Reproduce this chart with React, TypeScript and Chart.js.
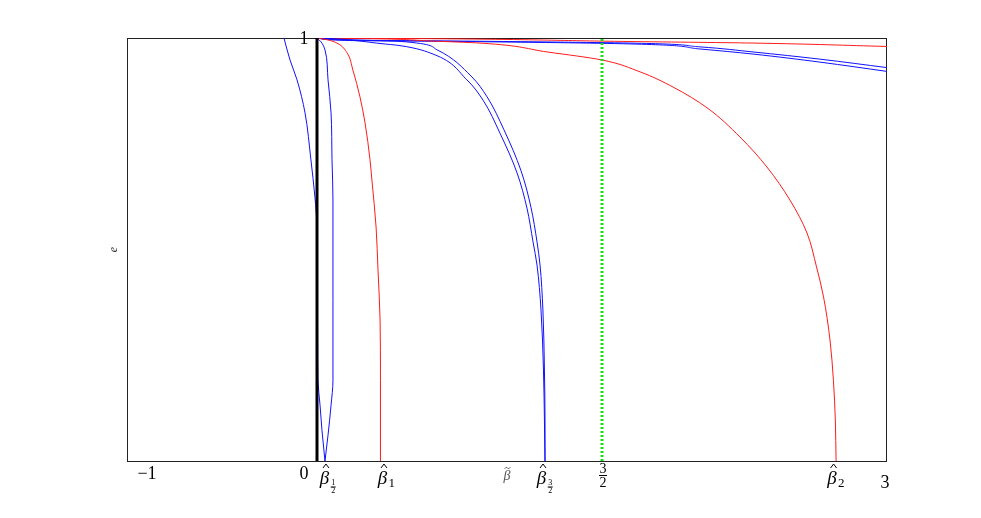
import React, { useEffect, useRef } from "react";
import { Chart, registerables } from "chart.js";
Chart.register(...registerables);

// ---- data (x = beta, e) ----
const halfLeftX = [-0.174, -0.142, -0.105, -0.063, -0.032, -0.011, 0, 0.0016, 0.003, 0.005, 0.016, 0.026, 0.042];
const halfLeftE = [1.0, 0.948, 0.901, 0.823, 0.712, 0.624, 0.553, 0.428, 0.286, 0.191, 0.132, 0.073, 0];

const halfRightX = [0, 0.021, 0.042, 0.058, 0.074, 0.079, 0.084, 0.084, 0.084, 0.074, 0.058, 0.042];
const halfRightE = [1.0, 0.991, 0.972, 0.901, 0.823, 0.712, 0.617, 0.381, 0.191, 0.132, 0.061, 0];

const oneX = [0, 0.053, 0.105, 0.158, 0.189, 0.226, 0.253, 0.279, 0.289, 0.311, 0.321, 0.332, 0.334, 0.334];
const oneE = [1.0, 0.996, 0.988, 0.965, 0.924, 0.861, 0.799, 0.712, 0.664, 0.553, 0.452, 0.333, 0.191, 0];

const threeHalvesAX = [0, 0.174, 0.332, 0.437, 0.611, 0.789, 0.874, 0.963, 1.053, 1.105, 1.137, 1.158, 1.179, 1.192, 1.197, 1.2];
const threeHalvesAE = [1.0, 0.995, 0.987, 0.982, 0.962, 0.901, 0.853, 0.775, 0.681, 0.598, 0.518, 0.463, 0.357, 0.215, 0.097, 0];

const threeHalvesBX = [0, 0.226, 0.437, 0.632, 0.811, 0.895, 0.984, 1.074, 1.126, 1.158, 1.174, 1.189, 1.197, 1.2, 1.2];
const threeHalvesBE = [1.0, 0.995, 0.992, 0.972, 0.91, 0.861, 0.783, 0.686, 0.6, 0.518, 0.463, 0.357, 0.215, 0.097, 0];

const twoX = [0, 0.332, 0.595, 0.858, 1.211, 1.5, 1.7, 1.874, 2.053, 2.226, 2.368, 2.489, 2.579, 2.629, 2.666, 2.7, 2.718, 2.728, 2.732];
const twoE = [1.0, 0.998, 0.993, 0.988, 0.967, 0.948, 0.92, 0.884, 0.835, 0.766, 0.695, 0.617, 0.539, 0.459, 0.388, 0.286, 0.191, 0.097, 0];

const redTopX = [0, 0.7, 1.595, 2.295, 3.0];
const redTopE = [1.0, 0.998, 0.992, 0.988, 0.98];

const blueTop1X = [0, 0.174, 0.7, 1.647, 2.016, 2.295, 2.647, 3.0];
const blueTop1E = [1.0, 0.995, 0.993, 0.988, 0.979, 0.967, 0.95, 0.93];

const blueTop2X = [0, 0.174, 0.7, 1.647, 2.016, 2.295, 2.647, 3.0];
const blueTop2E = [1.0, 0.994, 0.992, 0.986, 0.974, 0.962, 0.943, 0.921];

const zeroLineX = [0, 0];
const zeroLineE = [0, 1];
const threeHalfLineX = [1.5, 1.5];
const threeHalfLineE = [0, 1];

const xTickValues = [-1, 0, 0.042, 0.334, 1.0, 1.2, 1.5, 2.732, 3];
const xTickLabels = ["−1", "0", "hat:1/2", "hat:1", "tilde", "hat:3/2", "3/2", "hat:2", "3"];
const yTickValues = [1];
const yTickLabels = ["1"];
const yAxisLabel = "e";

// ---- styles ----
const xLabelNudge = [20, -13, 3, 6, 0, 0, 1, 0, -2];
const SERIF = "'Liberation Serif', 'DejaVu Serif', serif";

function pts(xs: number[], es: number[]) {
  return xs.map((x, i) => ({ x, y: es[i] }));
}

function drawHat(ctx: CanvasRenderingContext2D, cx: number, top: number, w: number) {
  ctx.beginPath();
  ctx.moveTo(cx - w / 2, top + 4);
  ctx.lineTo(cx, top);
  ctx.lineTo(cx + w / 2, top + 4);
  ctx.lineWidth = 1;
  ctx.stroke();
}

function drawFrac(ctx: CanvasRenderingContext2D, cx: number, num: string, den: string, size: number, numBase: number, barY: number, denBase: number) {
  ctx.font = `${size}px ${SERIF}`;
  ctx.textAlign = "center";
  ctx.textBaseline = "alphabetic";
  ctx.fillText(num, cx, numBase);
  ctx.fillText(den, cx, denBase);
  const w = Math.max(ctx.measureText(num).width, ctx.measureText(den).width) + 1;
  ctx.fillRect(cx - w / 2, barY, w, 1);
}

const labelPlugin = {
  id: "labels",
  beforeDatasetsDraw(chart: any) {
    const { ctx, chartArea } = chart;
    const { left, top, right, bottom } = chartArea;
    ctx.save();
    ctx.strokeStyle = "#222";
    ctx.lineWidth = 1;
    ctx.strokeRect(Math.round(left) + 0.5, Math.round(top) + 0.5, Math.round(right - left) - 1, Math.round(bottom - top));
    ctx.restore();
  },
  afterDraw(chart: any) {
    const { ctx } = chart;
    const xs = chart.scales.x;
    const ys = chart.scales.y;
    ctx.save();
    ctx.fillStyle = "#000";
    ctx.strokeStyle = "#000";
    xTickValues.forEach((v, i) => {
      const px = xs.getPixelForValue(v) + xLabelNudge[i];
      const lab = xTickLabels[i];
      if (lab.startsWith("hat:")) {
        const sub = lab.slice(4);
        ctx.font = `italic 19px ${SERIF}`;
        const bw = ctx.measureText("β").width;
        const isFrac = sub.includes("/");
        const sw = isFrac ? 6 : 7;
        const total = bw + sw + 1;
        const x0 = px - total / 2;
        ctx.textAlign = "left";
        ctx.textBaseline = "alphabetic";
        ctx.fillStyle = "#000";
        ctx.fillText("β", x0, 484);
        ctx.strokeStyle = "#000";
        drawHat(ctx, x0 + bw / 2 + 1.5, 464, 6);
        const sx = x0 + bw + 1 + sw / 2;
        if (isFrac) {
          const [n, d] = sub.split("/");
          drawFrac(ctx, sx, n, d, 8, 485, 486.5, 493);
        } else {
          ctx.font = `13px ${SERIF}`;
          ctx.textAlign = "center";
          ctx.fillText(sub, sx, 487);
        }
      } else if (lab === "tilde") {
        ctx.fillStyle = "#555";
        ctx.strokeStyle = "#555";
        ctx.font = `italic 14px ${SERIF}`;
        ctx.textAlign = "center";
        ctx.textBaseline = "alphabetic";
        ctx.fillText("β", px, 480);
        ctx.beginPath();
        ctx.moveTo(px - 2.5, 469);
        ctx.quadraticCurveTo(px - 1, 466, px + 0.5, 468);
        ctx.quadraticCurveTo(px + 2, 470, px + 3.5, 467);
        ctx.lineWidth = 0.8;
        ctx.stroke();
        ctx.fillStyle = "#000";
        ctx.strokeStyle = "#000";
      } else if (lab.includes("/")) {
        const [n, d] = lab.split("/");
        drawFrac(ctx, px, n, d, 14, 473, 475, 487);
      } else {
        ctx.font = `18px ${SERIF}`;
        ctx.textAlign = "center";
        ctx.textBaseline = "alphabetic";
        ctx.fillText(lab, px, lab === "3" ? 488 : 479);
      }
    });
    yTickValues.forEach((v, i) => {
      const py = ys.getPixelForValue(v);
      ctx.font = `18px ${SERIF}`;
      ctx.textAlign = "center";
      ctx.textBaseline = "middle";
      ctx.fillStyle = "#000";
      ctx.fillText(yTickLabels[i], xs.getPixelForValue(0) - 13, py + 1);
    });
    ctx.translate(114, (chart.chartArea.top + chart.chartArea.bottom) / 2);
    ctx.rotate(-Math.PI / 2);
    ctx.font = `italic 12px ${SERIF}`;
    ctx.fillStyle = "#333";
    ctx.textAlign = "center";
    ctx.textBaseline = "middle";
    ctx.fillText(yAxisLabel, 0, 0);
    ctx.restore();
  },
};

export default function App() {
  const ref = useRef<HTMLCanvasElement>(null);
  useEffect(() => {
    const blue = "#1010ff";
    const red = "#ff1a1a";
    const line = (xs: number[], es: number[], color: string, extra: any = {}) => ({
      data: pts(xs, es),
      borderColor: color,
      backgroundColor: color,
      borderWidth: 1,
      pointRadius: 0,
      cubicInterpolationMode: "monotone",
      fill: false,
      ...extra,
    });
    const chart = new Chart(ref.current!, {
      type: "line",
      data: {
        datasets: [
          line(threeHalfLineX, threeHalfLineE, "#18e018", { borderWidth: 3, borderDash: [2, 2], cubicInterpolationMode: "default", tension: 0 }),
          line(zeroLineX, zeroLineE, "#000", { borderWidth: 3, cubicInterpolationMode: "default", tension: 0 }),
          line(halfLeftX, halfLeftE, blue),
          line(halfRightX, halfRightE, blue),
          line(oneX, oneE, red),
          line(threeHalvesAX, threeHalvesAE, blue),
          line(threeHalvesBX, threeHalvesBE, blue),
          line(twoX, twoE, red),
          line(redTopX, redTopE, red),
          line(blueTop1X, blueTop1E, blue),
          line(blueTop2X, blueTop2E, blue),
        ] as any,
      },
      options: {
        animation: false,
        responsive: false,
        devicePixelRatio: 1,
        indexAxis: "y",
        layout: { padding: { left: 127, right: 94, top: 38, bottom: 57 } },
        plugins: { legend: { display: false }, tooltip: { enabled: false } },
        events: [],
        scales: {
          x: { type: "linear", min: -1, max: 3, display: false },
          y: { type: "linear", min: 0, max: 1, display: false },
        },
      } as any,
      plugins: [labelPlugin],
    });
    return () => chart.destroy();
  }, []);
  return (
    <div style={{ position: "fixed", left: 0, top: 0, width: 981, height: 518, background: "#fff" }}>
      <canvas ref={ref} width={981} height={518} style={{ display: "block" }} />
    </div>
  );
}
